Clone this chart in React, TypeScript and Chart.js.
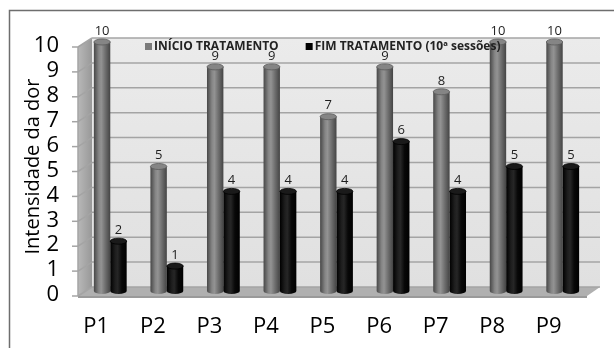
import React, { useEffect, useRef } from "react";
import { Chart, registerables } from "chart.js";

Chart.register(...registerables);

const categories = ["P1", "P2", "P3", "P4", "P5", "P6", "P7", "P8", "P9"];
const inicioTratamento = [10, 5, 9, 9, 7, 9, 8, 10, 10];
const fimTratamento = [2, 1, 4, 4, 4, 6, 4, 5, 5];
const yTickValues = [0, 1, 2, 3, 4, 5, 6, 7, 8, 9, 10];
const seriesLabels = ["INÍCIO TRATAMENTO", "FIM TRATAMENTO (10ª sessões)"];
const yTitle = "Intensidade da dor";

const FONT = "'Open Sans', 'DejaVu Sans', sans-serif";

const scenePlugin = {
  id: "scene3d",
  beforeDraw(chart: any) {
    const { ctx, width, height } = chart;
    ctx.save();
    ctx.fillStyle = "#ffffff";
    ctx.fillRect(0, 0, width, height);
    ctx.strokeStyle = "#6e6e6e";
    ctx.lineWidth = 1.5;
    ctx.beginPath();
    ctx.moveTo(9.5, height);
    ctx.lineTo(9.5, 10.5);
    ctx.lineTo(width, 10.5);
    ctx.stroke();
    ctx.restore();
  },
  beforeDatasetsDraw(chart: any) {
    const { ctx, chartArea, scales } = chart;
    const y = scales.y;
    const { left, right } = chartArea;
    const fx0 = left - 4;
    const fx1 = right - 4;
    const bx0 = left + 10;
    const bx1 = right + 9;
    const fy = (v: number) => y.getPixelForValue(v) + 5;
    const by = (v: number) => y.getPixelForValue(v) - 4;
    const yMax = yTickValues[yTickValues.length - 1];
    const yMin = yTickValues[0];
    ctx.save();
    const bw = ctx.createLinearGradient(0, by(yMax), 0, by(yMin));
    bw.addColorStop(0, "#ebebeb");
    bw.addColorStop(1, "#e0e0e0");
    ctx.fillStyle = bw;
    ctx.fillRect(bx0, by(yMax), bx1 - bx0, by(yMin) - by(yMax));
    const sw = ctx.createLinearGradient(fx0, 0, bx0, 0);
    sw.addColorStop(0, "#b8b8b8");
    sw.addColorStop(1, "#989898");
    ctx.fillStyle = sw;
    ctx.beginPath();
    ctx.moveTo(fx0, fy(yMin));
    ctx.lineTo(fx0, fy(yMax));
    ctx.lineTo(bx0, by(yMax));
    ctx.lineTo(bx0, by(yMin));
    ctx.closePath();
    ctx.fill();
    ctx.fillStyle = "#b0b0b0";
    ctx.beginPath();
    ctx.moveTo(fx0, fy(yMin));
    ctx.lineTo(fx1, fy(yMin));
    ctx.lineTo(bx1, by(yMin));
    ctx.lineTo(bx0, by(yMin));
    ctx.closePath();
    ctx.fill();
    ctx.fillStyle = "#9a9a9a";
    ctx.fillRect(fx0, fy(yMin), fx1 - fx0, 2);
    ctx.strokeStyle = "#a4a4a4";
    ctx.lineWidth = 1.5;
    yTickValues.forEach((v) => {
      ctx.beginPath();
      ctx.moveTo(bx0, by(v));
      ctx.lineTo(bx1, by(v));
      ctx.stroke();
      ctx.beginPath();
      ctx.moveTo(fx0, fy(v));
      ctx.lineTo(bx0, by(v));
      ctx.stroke();
      ctx.beginPath();
      ctx.moveTo(fx0 - 6, fy(v));
      ctx.lineTo(fx0, fy(v));
      ctx.stroke();
    });
    ctx.beginPath();
    ctx.moveTo(fx0, fy(yMin));
    ctx.lineTo(fx0, fy(yMax));
    ctx.stroke();
    ctx.restore();
  },
  afterDatasetsDraw(chart: any) {
    const { ctx } = chart;
    ctx.save();
    const styles = [
      { stops: ["#474747", "#858585", "#939393", "#6e6e6e", "#444444"], top: "#858585", rim: "#5a5a5a" },
      { stops: ["#000000", "#1e1e1e", "#262626", "#080808", "#000000"], top: "#1a1a1a", rim: "#000000" },
    ];
    chart.data.datasets.forEach((ds: any, i: number) => {
      const meta = chart.getDatasetMeta(i);
      const st = styles[i];
      meta.data.forEach((el: any, j: number) => {
        const { x, y, base, width } = el.getProps(["x", "y", "base", "width"], true);
        const l = x - width / 2;
        const rx = width / 2;
        const ry = 3;
        const g = ctx.createLinearGradient(l, 0, l + width, 0);
        g.addColorStop(0, st.stops[0]);
        g.addColorStop(0.3, st.stops[1]);
        g.addColorStop(0.45, st.stops[2]);
        g.addColorStop(0.7, st.stops[3]);
        g.addColorStop(1, st.stops[4]);
        ctx.fillStyle = g;
        ctx.beginPath();
        ctx.moveTo(l, y);
        ctx.lineTo(l, base);
        ctx.ellipse(x, base, rx, ry, 0, Math.PI, 0, true);
        ctx.lineTo(l + width, y);
        ctx.closePath();
        ctx.fill();
        ctx.beginPath();
        ctx.ellipse(x, y, rx, ry, 0, 0, Math.PI * 2);
        ctx.fillStyle = st.top;
        ctx.fill();
        ctx.strokeStyle = st.rim;
        ctx.lineWidth = 0.8;
        ctx.stroke();
        ctx.fillStyle = "#1e1e1e";
        ctx.font = `13px ${FONT}`;
        ctx.textAlign = "center";
        ctx.textBaseline = "middle";
        ctx.fillText(String(ds.data[j]), x, y - 11);
      });
    });
    ctx.restore();
  },
  afterDraw(chart: any) {
    const { ctx, chartArea } = chart;
    ctx.save();
    ctx.font = `bold 12px ${FONT}`;
    ctx.textBaseline = "middle";
    ctx.textAlign = "left";
    const colors = ["#7a7a7a", "#000000"];
    let x = chartArea.left + 63;
    const yc = chartArea.top + 5;
    chart.data.datasets.forEach((ds: any, i: number) => {
      ctx.fillStyle = colors[i];
      ctx.fillRect(x, yc - 4, 7, 7);
      ctx.fillStyle = "#222222";
      ctx.fillText(ds.label, x + 9, yc);
      x += 9 + ctx.measureText(ds.label).width + 27;
    });
    ctx.restore();
  },
};

export default function App() {
  const ref = useRef<HTMLCanvasElement | null>(null);
  useEffect(() => {
    if (!ref.current) return;
    const chart = new Chart(ref.current, {
      type: "bar",
      data: {
        labels: categories,
        datasets: [
          { label: seriesLabels[0], data: inicioTratamento, backgroundColor: "rgba(0,0,0,0)" },
          { label: seriesLabels[1], data: fimTratamento, backgroundColor: "rgba(0,0,0,0)" },
        ],
      },
      options: {
        responsive: false,
        animation: false,
        layout: { padding: { top: 42, right: 23, bottom: 0, left: 0 } },
        datasets: { bar: { categoryPercentage: 0.58, barPercentage: 1 } },
        plugins: { legend: { display: false }, tooltip: { enabled: false } },
        scales: {
          x: {
            grid: { display: false },
            border: { display: false },
            ticks: { font: { family: FONT, size: 22 }, color: "#000", padding: 15, labelOffset: -14 },
            afterFit: (s: any) => {
              s.height = 57;
            },
          },
          y: {
            min: 0,
            max: 10,
            grid: { display: false },
            border: { display: false },
            ticks: {
              stepSize: 1,
              autoSkip: false,
              font: { family: FONT, size: 22 },
              color: "#000",
              padding: 15,
              labelOffset: 4,
            },
            title: {
              display: true,
              text: yTitle,
              font: { family: FONT, size: 20 },
              color: "#000",
              padding: { top: 21, bottom: 0 },
            },
            afterFit: (s: any) => {
              s.width = 82;
            },
          },
        },
      },
      plugins: [scenePlugin],
    });
    return () => chart.destroy();
  }, []);
  return (
    <div style={{ position: "fixed", left: 0, top: 0, width: 614, height: 348, background: "#fff" }}>
      <canvas ref={ref} width={614} height={348} style={{ display: "block" }} />
    </div>
  );
}
